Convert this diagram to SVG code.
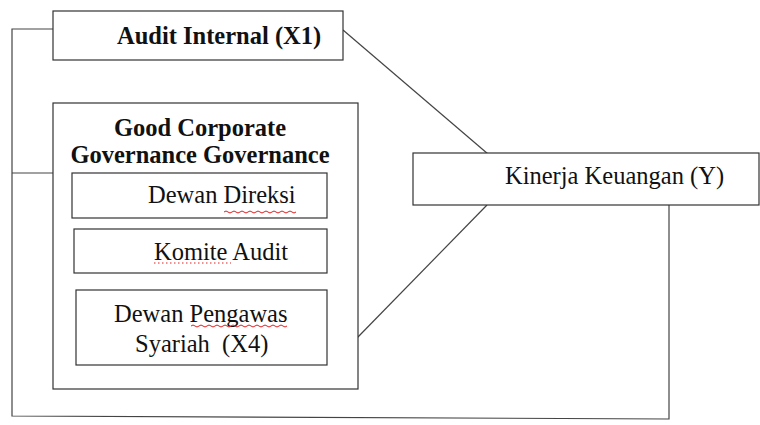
<svg xmlns="http://www.w3.org/2000/svg" width="760" height="425" viewBox="0 0 760 425">
<style>
.box{fill:#fff;stroke:#333;stroke-width:1.2}
.ln{fill:none;stroke:#444;stroke-width:1.2}
.t{font-family:"Liberation Serif","Times New Roman",serif;font-size:24.5px;fill:#111}
.b{font-weight:bold}
.sq{fill:none;stroke:#e02020;stroke-width:1}
</style>
<rect width="760" height="425" fill="#fff"/>
<g id="connectors">
<polyline class="ln" points="53,29 12,29 12,416 669,419 669,200"/>
<line class="ln" x1="12" y1="173" x2="53" y2="173"/>
<line class="ln" x1="343" y1="30" x2="488" y2="154"/>
<line class="ln" x1="487" y1="205" x2="357" y2="338"/>
</g>
<g id="audit-internal">
<rect class="box" x="53" y="11" width="290" height="49"/>
<text class="t b" x="117" y="44">Audit Internal (X1)</text>
</g>
<g id="gcg">
<rect class="box" x="53" y="103" width="305" height="286"/>
<text class="t b" x="200" y="136" text-anchor="middle">Good Corporate</text>
<text class="t b" x="200" y="163" text-anchor="middle">Governance Governance</text>
</g>
<g id="dewan-direksi">
<rect class="box" x="72" y="173" width="255" height="45"/>
<text class="t" x="148" y="203">Dewan Direksi</text>
<path class="sq" d="M224,212 q2,-2 4,0 t4,0 t4,0 t4,0 t4,0 t4,0 t4,0 t4,0 t4,0 t4,0 t4,0 t4,0 t4,0 t4,0 t4,0 t4,0 t4,0 t4,0"/>
</g>
<g id="komite-audit">
<rect class="box" x="74" y="229" width="253" height="44"/>
<text class="t" x="154" y="260">Komite Audit</text>
<line class="sq" x1="154" y1="263" x2="231" y2="263" stroke-dasharray="1.5,2.5"/>
</g>
<g id="dewan-pengawas">
<rect class="box" x="76" y="290" width="251" height="75"/>
<text class="t" x="114" y="322">Dewan Pengawas</text>
<text class="t" x="135" y="352" xml:space="preserve" style="white-space:pre">Syariah  (X4)</text>
<path class="sq" d="M191,326 q2,-2 4,0 t4,0 t4,0 t4,0 t4,0 t4,0 t4,0 t4,0 t4,0 t4,0 t4,0 t4,0 t4,0 t4,0 t4,0 t4,0 t4,0 t4,0 t4,0 t4,0 t4,0 t4,0 t4,0 t4,0"/>
</g>
<g id="kinerja">
<rect class="box" x="413" y="153" width="346" height="52"/>
<text class="t" x="505" y="184">Kinerja Keuangan (Y)</text>
</g>
</svg>
